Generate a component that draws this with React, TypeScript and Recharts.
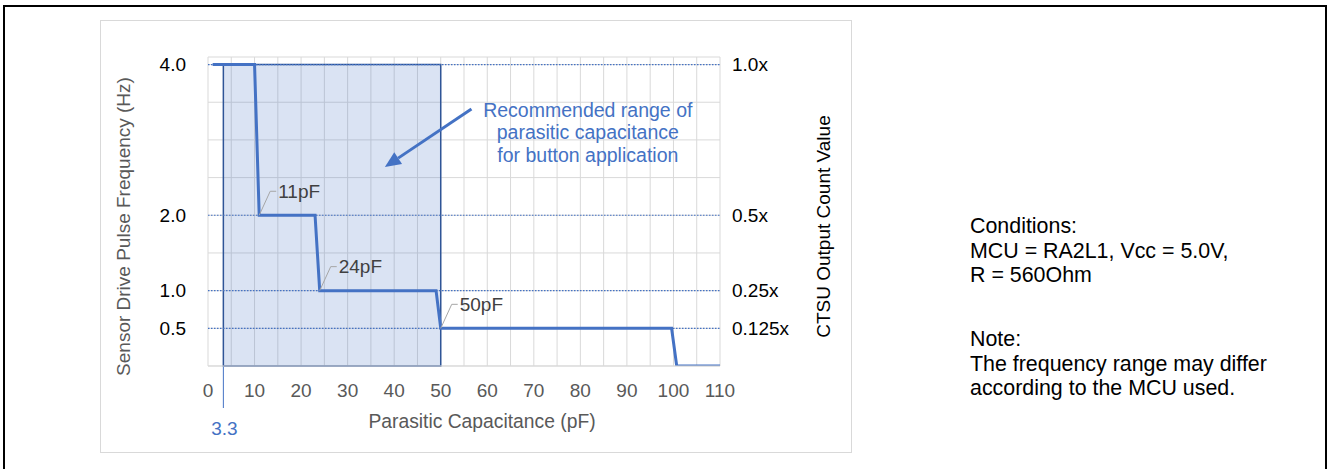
import { LineChart, Line, XAxis, YAxis, CartesianGrid, ReferenceArea, ReferenceLine, ReferenceDot } from 'recharts'

// Step curve: sensor drive pulse frequency vs parasitic capacitance
const capacitance = [1, 10, 11, 23, 24, 49, 50, 99.6, 100.7, 110]
const frequency = [4, 4, 2, 2, 1, 1, 0.5, 0.5, 0, 0]

// axis ticks (grid every 5 pF / 0.5 Hz, labels on a subset)
const xGridTicks = [0, 5, 10, 15, 20, 25, 30, 35, 40, 45, 50, 55, 60, 65, 70, 75, 80, 85, 90, 95, 100, 105, 110]
const xLabelTicks = [0, 10, 20, 30, 40, 50, 60, 70, 80, 90, 100, 110]
const yGridTicks = [0, 0.5, 1, 1.5, 2, 2.5, 3, 3.5, 4]
const freqTicks = [0.5, 1, 2, 4]
const freqLabels = ['0.5', '1.0', '2.0', '4.0']
const countLabels = ['0.125x', '0.25x', '0.5x', '1.0x']

// recommended range and step markers
const rangeStart = 3.3
const rangeEnd = 50
const rangeTop = 4
const stepMarkers = [
  { x: 11, y: 2, text: '11pF' },
  { x: 24, y: 1, text: '24pF' },
  { x: 50, y: 0.5, text: '50pF' },
]
const noteLines = ['Recommended range of', 'parasitic capacitance', 'for button application']
const conditions = ['Conditions:', 'MCU = RA2L1, Vcc = 5.0V,', 'R = 560Ohm']
const notes = ['Note:', 'The frequency range may differ', 'according to the MCU used.']

const BLUE = '#4472C4'
const FONT = "'Liberation Sans', Arial, sans-serif"

const chartData = capacitance.map((x, i) => ({ x, f: frequency[i] }))

const leaderLabel = (text: string) => (p: any) => {
  const { cx, cy } = p
  const ex = cx + 11
  const ey = cy - 24
  return (
    <g>
      <polyline points={`${cx},${cy} ${ex},${ey} ${ex + 6},${ey}`} fill="none" stroke="#a6a6a6" strokeWidth={1} />
      <text x={ex + 8} y={ey} dy="0.35em" fontSize={19} fill="#404040">{text}</text>
    </g>
  )
}

const arrowShape = (p: any) => {
  const { x1, y1, x2, y2 } = p
  const dx = x2 - x1
  const dy = y2 - y1
  const len = Math.hypot(dx, dy)
  const ux = dx / len
  const uy = dy / len
  const bx = x2 - ux * 16
  const by = y2 - uy * 16
  return (
    <g>
      <line x1={x1} y1={y1} x2={bx} y2={by} stroke={BLUE} strokeWidth={3} />
      <polygon points={`${x2},${y2} ${bx - uy * 7},${by + ux * 7} ${bx + uy * 7},${by - ux * 7}`} fill={BLUE} />
    </g>
  )
}

const startMarker = (p: any) => {
  const bottom = Math.max(p.y1, p.y2)
  return (
    <g>
      <line x1={p.x1} y1={bottom} x2={p.x1} y2={bottom + 42} stroke={BLUE} strokeWidth={1} />
      <text x={p.x1 + 1} y={bottom + 62} dy="0.35em" textAnchor="middle" fontSize={19} fill={BLUE}>{rangeStart}</text>
    </g>
  )
}

const noteShape = (p: any) => (
  <text x={p.cx} y={p.cy} textAnchor="middle" fontSize={19.5} fill={BLUE}>
    {noteLines.map((l, i) => (
      <tspan key={l} x={p.cx} y={p.cy + i * 22.6} dy="0.35em">{l}</tspan>
    ))}
  </text>
)

const axisTitle = (text: string, offsetX: number, offsetY: number, fill: string) => (props: any) => {
  const { x, y, height } = props.viewBox
  const cx = x + offsetX
  const cy = y + height / 2 + offsetY
  return (
    <text x={cx} y={cy} dy="0.35em" transform={`rotate(-90 ${cx} ${cy})`} textAnchor="middle" fontSize={19} fill={fill}>
      {text}
    </text>
  )
}

export default function App() {
  return (
    <div style={{ position: 'absolute', left: 0, top: 0, width: 1327, height: 469, overflow: 'hidden', background: '#fff', fontFamily: FONT }}>
      <div style={{ position: 'absolute', left: 3, top: 5, width: 1324, height: 480, boxSizing: 'border-box', border: '2px solid #000' }} />
      <div style={{ position: 'absolute', left: 100, top: 20, width: 752, height: 433, boxSizing: 'border-box', border: '1px solid #d9d9d9' }} />
      <div style={{ position: 'absolute', left: 0, top: 0 }}>
        <LineChart width={1327} height={469} data={chartData} margin={{ top: 57, right: 507, bottom: 33, left: 0 }}>
          <CartesianGrid stroke="#d9d9d9" />
          <XAxis
            dataKey="x"
            type="number"
            domain={[0, 110]}
            ticks={xGridTicks}
            interval={0}
            allowDataOverflow
            height={70}
            tickSize={0}
            tickMargin={18}
            axisLine={{ stroke: '#d9d9d9' }}
            tickLine={false}
            tick={{ fill: '#595959', fontSize: 19 }}
            tickFormatter={(v: number) => (xLabelTicks.includes(v) ? String(v) : '')}
            label={{ value: 'Parasitic Capacitance (pF)', position: 'insideBottom', offset: 8, dx: 18, fill: '#595959', fontSize: 19.3 }}
          />
          <YAxis
            type="number"
            domain={[0, 4.1]}
            ticks={yGridTicks}
            interval={0}
            allowDataOverflow
            width={208}
            tickSize={0}
            tickMargin={22}
            axisLine={false}
            tickLine={false}
            tick={{ fill: '#000', fontSize: 19 }}
            tickFormatter={(v: number) => {
              const i = freqTicks.indexOf(v)
              return i >= 0 ? freqLabels[i] : ''
            }}
            label={axisTitle('Sensor Drive Pulse Frequency (Hz)', 123, 15, '#595959')}
          />
          <YAxis
            yAxisId="right"
            orientation="right"
            type="number"
            domain={[0, 4.1]}
            ticks={freqTicks}
            interval={0}
            allowDataOverflow
            width={100}
            tickSize={0}
            tickMargin={12}
            axisLine={false}
            tickLine={false}
            tick={{ fill: '#000', fontSize: 19 }}
            tickFormatter={(v: number) => countLabels[freqTicks.indexOf(v)]}
            label={axisTitle('CTSU Output Count Value', 103, 15, '#000')}
          />
          <ReferenceArea x1={rangeStart} x2={rangeEnd} y1={0} y2={rangeTop} fill={BLUE} fillOpacity={0.2} stroke="#2F5597" strokeWidth={1.5} />
          {freqTicks.map(v => (
            <ReferenceLine key={v} y={v} stroke={BLUE} strokeWidth={1.2} strokeDasharray="1.5 1.5" />
          ))}
          <ReferenceLine x={rangeStart} shape={startMarker} />
          <ReferenceLine segment={[{ x: 56.6, y: 3.41 }, { x: 38, y: 2.64 }]} shape={arrowShape} />
          <ReferenceDot x={81.6} y={3.4} r={0} shape={noteShape} />
          <Line dataKey="f" type="linear" stroke={BLUE} strokeWidth={3} dot={false} activeDot={false} isAnimationActive={false} />
          {stepMarkers.map(m => (
            <ReferenceDot key={m.text} x={m.x} y={m.y} r={0} shape={leaderLabel(m.text)} />
          ))}
        </LineChart>
      </div>
      <div style={{ position: 'absolute', left: 970, top: 214, fontSize: 21.4, lineHeight: '24.5px', color: '#000' }}>
        {conditions.map(l => <div key={l}>{l}</div>)}
      </div>
      <div style={{ position: 'absolute', left: 970, top: 327, fontSize: 21.4, lineHeight: '24.5px', color: '#000' }}>
        {notes.map(l => <div key={l}>{l}</div>)}
      </div>
    </div>
  )
}
